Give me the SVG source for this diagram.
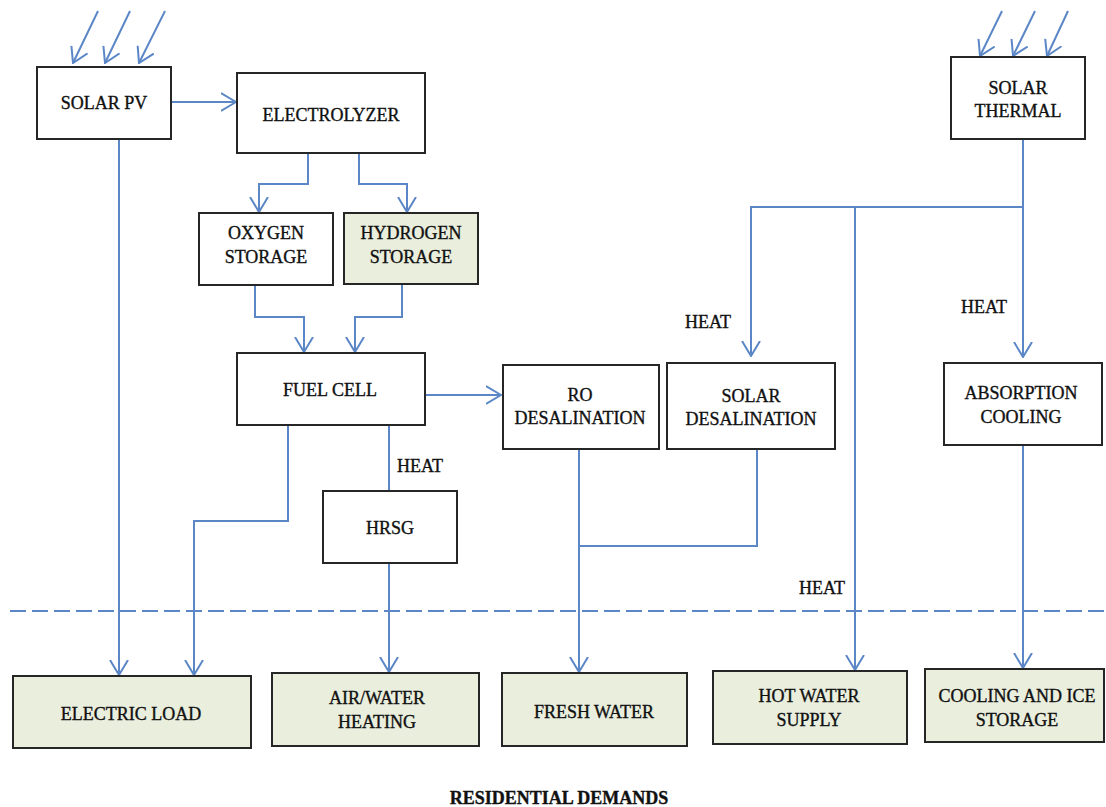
<svg xmlns="http://www.w3.org/2000/svg" width="1106" height="807" viewBox="0 0 1106 807">
<style>
.box{fill:#ffffff;stroke:#262626;stroke-width:2}
.dem{fill:#eaeedd;stroke:#262626;stroke-width:2}
.t{font-family:"Liberation Serif","Times New Roman",serif;font-size:18px;fill:#111;stroke:#111;stroke-width:0.35;text-anchor:middle}
.ts{font-family:"Liberation Serif","Times New Roman",serif;font-size:18px;fill:#111;stroke:#111;stroke-width:0.35}
.c{fill:none;stroke:#5b87c6;stroke-width:2}
.a{marker-end:url(#arr)}
</style>
<defs>
<marker id="arr" viewBox="0 0 16 20" refX="15" refY="10" markerWidth="16" markerHeight="20" orient="auto" markerUnits="userSpaceOnUse">
<path d="M0,1 L15,10 L0,19" fill="none" stroke="#5b87c6" stroke-width="2"/>
</marker>
</defs>
<rect width="1106" height="807" fill="#ffffff"/>
<g id="connectors">
<path class="c a" d="M98,11 L73,63"/>
<path class="c a" d="M130,11 L105,63"/>
<path class="c a" d="M165,11 L139,63"/>
<path class="c a" d="M1002,11 L980,56"/>
<path class="c a" d="M1035,11 L1013,56"/>
<path class="c a" d="M1068,11 L1047,56"/>
<path class="c a" d="M171,102 H236"/>
<path class="c a" d="M308,153 V184 H259 V212"/>
<path class="c a" d="M359,153 V184 H407 V212"/>
<path class="c a" d="M255,285 V317 H304 V352"/>
<path class="c a" d="M402,284 V317 H355 V352"/>
<path class="c a" d="M425,395 H501"/>
<path class="c a" d="M288,425 V521 H194 V675"/>
<path class="c a" d="M119,139 V675"/>
<path class="c" d="M389,425 V491"/>
<path class="c a" d="M389,563 V672"/>
<path class="c a" d="M579,449 V672"/>
<path class="c" d="M757,449 V546 H579"/>
<path class="c a" d="M1023,139 V357"/>
<path class="c a" d="M1023,207 H751 V356"/>
<path class="c a" d="M855,207 V670"/>
<path class="c a" d="M1023,445 V668"/>
<path class="c" d="M10,611 H1106" stroke-dasharray="16 6"/>
</g>
<g id="solar-pv"><rect class="box" x="37" y="67" width="134" height="72"/><text class="t" x="104" y="109">SOLAR PV</text></g>
<g id="electrolyzer"><rect class="box" x="237" y="73" width="188" height="80"/><text class="t" x="331" y="121">ELECTROLYZER</text></g>
<g id="oxygen-storage"><rect class="box" x="199" y="213" width="134" height="72"/><text class="t" x="266" y="239">OXYGEN</text><text class="t" x="266" y="263">STORAGE</text></g>
<g id="hydrogen-storage"><rect class="dem" x="344" y="213" width="134" height="71"/><text class="t" x="411" y="239">HYDROGEN</text><text class="t" x="411" y="263">STORAGE</text></g>
<g id="fuel-cell"><rect class="box" x="237" y="353" width="188" height="72"/><text class="t" x="330" y="396">FUEL CELL</text></g>
<g id="ro-desalination"><rect class="box" x="503" y="365" width="156" height="84"/><text class="t" x="580" y="401">RO</text><text class="t" x="580" y="424">DESALINATION</text></g>
<g id="solar-desalination"><rect class="box" x="667" y="363" width="168" height="86"/><text class="t" x="751" y="402">SOLAR</text><text class="t" x="751" y="425">DESALINATION</text></g>
<g id="solar-thermal"><rect class="box" x="951" y="57" width="134" height="82"/><text class="t" x="1018" y="94">SOLAR</text><text class="t" x="1018" y="117">THERMAL</text></g>
<g id="absorption-cooling"><rect class="box" x="944" y="363" width="158" height="82"/><text class="t" x="1021" y="399">ABSORPTION</text><text class="t" x="1021" y="423">COOLING</text></g>
<g id="hrsg"><rect class="box" x="323" y="491" width="134" height="72"/><text class="t" x="390" y="534">HRSG</text></g>
<g id="electric-load"><rect class="dem" x="13" y="676" width="238" height="72"/><text class="t" x="131" y="720">ELECTRIC LOAD</text></g>
<g id="air-water-heating"><rect class="dem" x="272" y="673" width="207" height="73"/><text class="t" x="377" y="704">AIR/WATER</text><text class="t" x="377" y="728">HEATING</text></g>
<g id="fresh-water"><rect class="dem" x="502" y="673" width="185" height="73"/><text class="t" x="594" y="718">FRESH WATER</text></g>
<g id="hot-water-supply"><rect class="dem" x="713" y="671" width="194" height="73"/><text class="t" x="809" y="702">HOT WATER</text><text class="t" x="809" y="726">SUPPLY</text></g>
<g id="cooling-ice-storage"><rect class="dem" x="925" y="669" width="179" height="73"/><text class="t" x="1017" y="702">COOLING AND ICE</text><text class="t" x="1017" y="726">STORAGE</text></g>
<g id="labels">
<text class="ts" x="397" y="472">HEAT</text>
<text class="ts" x="685" y="328">HEAT</text>
<text class="ts" x="961" y="313">HEAT</text>
<text class="ts" x="799" y="594">HEAT</text>
<text class="t" x="559" y="804" font-weight="bold" font-size="18.5">RESIDENTIAL DEMANDS</text>
</g>
</svg>
